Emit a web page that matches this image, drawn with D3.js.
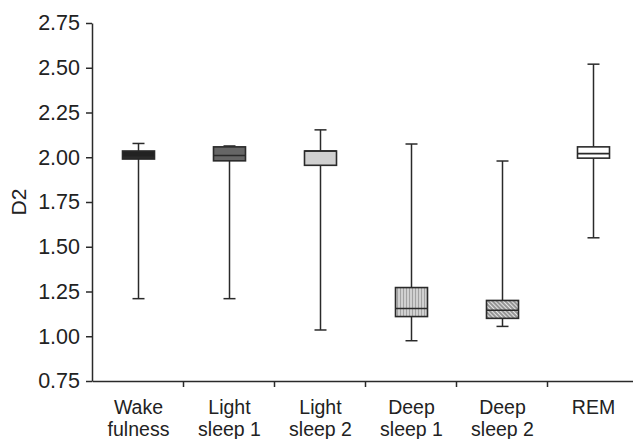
<!DOCTYPE html>
<html>
<head>
<meta charset="utf-8">
<script src="https://cdn.jsdelivr.net/npm/d3@7"></script>
<style>
  body { margin: 0; background: #fff; }
  svg { font-family: "Liberation Sans", Arial, sans-serif; }
</style>
</head>
<body>
<svg id="chart"></svg>
<script>
// categories and box statistics
const stages = ["Wake|fulness", "Light|sleep 1", "Light|sleep 2", "Deep|sleep 1", "Deep|sleep 2", "REM"];
const whiskerLow = [1.21, 1.21, 1.035, 0.975, 1.055, 1.55];
const boxLow = [1.99, 1.98, 1.955, 1.11, 1.10, 1.995];
const median = [2.0, 2.01, 2.035, 1.155, 1.145, 2.02];
const boxHigh = [2.035, 2.058, 2.035, 1.272, 1.20, 2.058];
const whiskerHigh = [2.077, 2.063, 2.153, 2.074, 1.979, 2.52];
const yTicks = [0.75, 1.00, 1.25, 1.50, 1.75, 2.00, 2.25, 2.50, 2.75];
const fills = ["#222", "#666", "#d0d0d0", "url(#vlines)", "url(#diag)", "#fff"];

const width = 633, height = 439;
const marginLeft = 92, marginTop = 23, marginBottom = 60;
const ink = "#2a2a2a";

const svg = d3.select("#chart").attr("width", width).attr("height", height);

// hatch patterns for the deep sleep boxes
const defs = svg.append("defs");
const v = defs.append("pattern").attr("id", "vlines")
  .attr("patternUnits", "userSpaceOnUse").attr("width", 3).attr("height", 3);
v.append("rect").attr("width", 3).attr("height", 3).attr("fill", "#fff");
v.append("line").attr("x1", 1).attr("x2", 1).attr("y1", 0).attr("y2", 3)
  .attr("stroke", "#444").attr("stroke-width", 1);
const dg = defs.append("pattern").attr("id", "diag")
  .attr("patternUnits", "userSpaceOnUse").attr("width", 3).attr("height", 3)
  .attr("patternTransform", "rotate(45)");
dg.append("rect").attr("width", 3).attr("height", 3).attr("fill", "#e4e4e4");
dg.append("line").attr("x1", 0).attr("x2", 3).attr("y1", 1).attr("y2", 1)
  .attr("stroke", "#555").attr("stroke-width", 1.1);

const x = d3.scaleBand().domain(d3.range(stages.length)).range([marginLeft, marginLeft + 91 * 6]).padding(0);
const y = d3.scaleLinear().domain([0.75, 2.75]).range([height - marginBottom + 2, marginTop]);

// y-axis
const yAxis = svg.append("g")
  .attr("transform", `translate(${marginLeft},0)`)
  .call(d3.axisLeft(y).tickValues(yTicks).tickFormat(d3.format(".2f")).tickSize(6).tickPadding(6).tickSizeOuter(0));
yAxis.select(".domain").attr("stroke", ink).attr("stroke-width", 1.5);
yAxis.selectAll(".tick line").attr("stroke", ink).attr("stroke-width", 1.5);
yAxis.selectAll("text").attr("font-size", 21.5).attr("fill", "#222");

svg.append("text")
  .attr("transform", `translate(26,${y(1.75)}) rotate(-90)`)
  .attr("text-anchor", "middle")
  .attr("font-size", 21).attr("fill", "#222")
  .text("D2");

// x-axis: ticks at category boundaries
const xb = d3.scaleLinear().domain([0, stages.length]).range([marginLeft, marginLeft + 91 * 6]);
const xAxis = svg.append("g")
  .attr("transform", `translate(0,${y(0.75)})`)
  .call(d3.axisBottom(xb).tickValues(d3.range(1, stages.length + 1)).tickFormat("").tickSize(6).tickSizeOuter(0));
xAxis.select(".domain").attr("stroke", ink).attr("stroke-width", 1.5);
xAxis.selectAll(".tick line").attr("stroke", ink).attr("stroke-width", 1.5);

const labels = svg.append("g").selectAll("text")
  .data(stages).join("text")
  .attr("x", (d, i) => x(i) + x.bandwidth() / 2 + 1)
  .attr("y", y(0.75) + 33)
  .attr("text-anchor", "middle")
  .attr("font-size", 19.5).attr("fill", "#222");
labels.each(function(d) {
  d.split("|").forEach((t, k) => {
    d3.select(this).append("tspan")
      .attr("x", d3.select(this).attr("x"))
      .attr("dy", k === 0 ? 0 : 22)
      .text(t);
  });
});

// boxes
const boxW = 32, capW = 12;
const g = svg.append("g").selectAll("g")
  .data(stages.map((s, i) => i)).join("g")
  .attr("transform", i => `translate(${x(i) + x.bandwidth() / 2 + 1},0)`);

g.append("line")
  .attr("y1", i => y(whiskerLow[i])).attr("y2", i => y(whiskerHigh[i]))
  .attr("stroke", ink).attr("stroke-width", 1.5);
g.append("line")
  .attr("x1", -capW / 2).attr("x2", capW / 2)
  .attr("y1", i => y(whiskerHigh[i])).attr("y2", i => y(whiskerHigh[i]))
  .attr("stroke", ink).attr("stroke-width", 1.5);
g.append("line")
  .attr("x1", -capW / 2).attr("x2", capW / 2)
  .attr("y1", i => y(whiskerLow[i])).attr("y2", i => y(whiskerLow[i]))
  .attr("stroke", ink).attr("stroke-width", 1.5);
g.append("rect")
  .attr("x", -boxW / 2).attr("width", boxW)
  .attr("y", i => y(boxHigh[i]))
  .attr("height", i => y(boxLow[i]) - y(boxHigh[i]))
  .attr("fill", i => fills[i])
  .attr("stroke", ink).attr("stroke-width", 1.6);
g.append("line")
  .attr("x1", -boxW / 2).attr("x2", boxW / 2)
  .attr("y1", i => y(median[i])).attr("y2", i => y(median[i]))
  .attr("stroke", ink).attr("stroke-width", 1.6);
</script>
</body>
</html>
